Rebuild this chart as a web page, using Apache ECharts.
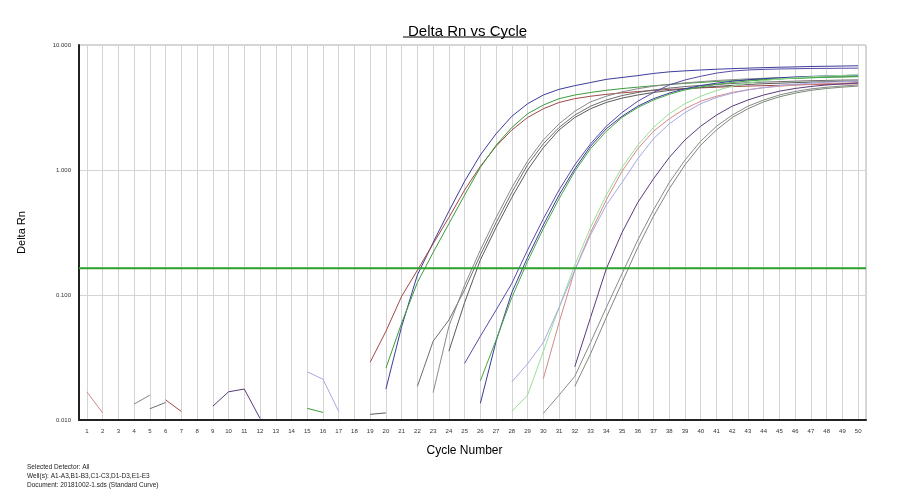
<!DOCTYPE html>
<html lang="en">
<head>
    <title>Delta Rn vs Cycle</title>
    <meta charset="UTF-8">
    <script src="https://cdn.jsdelivr.net/npm/echarts@6.0.0/dist/echarts.min.js"></script>
    <style>
        body {
            padding: 0;
            margin: 0;
            background: #fff;
        }

        #box {
            width: 900px;
            height: 500px;
        }
    </style>
</head>
<body>
<div id="box"></div>

<script>
    var n = null;

    // cycle numbers on the x axis
    var cycles = [1, 2, 3, 4, 5, 6, 7, 8, 9, 10, 11, 12, 13, 14, 15, 16, 17, 18, 19, 20,
        21, 22, 23, 24, 25, 26, 27, 28, 29, 30, 31, 32, 33, 34, 35, 36, 37, 38, 39, 40,
        41, 42, 43, 44, 45, 46, 47, 48, 49, 50];

    // y axis decades
    var yTicks = [0.01, 0.1, 1, 10];

    var threshold = 0.164;

    // Delta Rn per well, one value per cycle (null = not shown on log scale)
    var wellA1 = [n, n, n, n, n, n, n, n, n, n,
        n, n, n, n, n, n, n, n, n, 0.0177,
        0.056, 0.145, 0.263, 0.468, 0.813, 1.32, 1.95, 2.69, 3.39, 3.98,
        4.42, 4.73, 5.01, 5.31, 5.50, 5.69, 5.92, 6.10, 6.21, 6.31,
        6.40, 6.47, 6.53, 6.59, 6.64, 6.68, 6.73, 6.76, 6.79, 6.82];
    var wellA2 = [n, n, n, n, n, 0.0145, 0.0117, n, n, n,
        n, n, n, n, n, n, n, n, 0.029, 0.0513,
        0.0977, 0.158, 0.257, 0.417, 0.692, 1.07, 1.55, 2.09, 2.63, 3.09,
        3.47, 3.72, 3.89, 4.03, 4.14, 4.24, 4.33, 4.41, 4.48, 4.54,
        4.59, 4.65, 4.69, 4.73, 4.76, 4.80, 4.83, 4.85, 4.88, 4.90];
    var wellA3 = [n, n, n, n, n, n, n, n, n, n,
        n, n, n, n, 0.0124, 0.0115, n, n, n, 0.026,
        0.0597, 0.126, 0.219, 0.372, 0.631, 1.05, 1.58, 2.19, 2.82, 3.31,
        3.72, 3.98, 4.17, 4.34, 4.48, 4.60, 4.72, 4.83, 4.93, 5.02,
        5.11, 5.18, 5.25, 5.31, 5.37, 5.42, 5.47, 5.51, 5.55, 5.58];

    var wellB1 = [n, n, n, n, 0.0123, 0.0138, n, n, n, n,
        n, n, n, n, n, n, n, n, n, n,
        n, 0.0186, 0.0427, 0.0631, 0.110, 0.209, 0.380, 0.661, 1.10, 1.62,
        2.19, 2.75, 3.24, 3.63, 3.94, 4.17, 4.37, 4.52, 4.65, 4.75,
        4.84, 4.92, 4.99, 5.05, 5.09, 5.14, 5.18, 5.21, 5.24, 5.26];
    var wellB2 = [n, n, n, n, n, n, n, n, n, n,
        n, n, n, n, n, n, n, n, n, n,
        n, n, 0.0166, 0.0562, 0.120, 0.229, 0.417, 0.724, 1.18, 1.74,
        2.34, 2.95, 3.51, 3.89, 4.22, 4.47, 4.68, 4.84, 4.98, 5.09,
        5.20, 5.28, 5.36, 5.42, 5.47, 5.52, 5.56, 5.58, 5.61, 5.64];
    var wellB3 = [n, n, n, n, n, n, n, n, n, n,
        n, n, n, n, n, n, n, n, 0.0111, 0.0114,
        n, n, n, 0.0355, 0.0871, 0.191, 0.347, 0.603, 1.00, 1.51,
        2.09, 2.63, 3.09, 3.47, 3.76, 3.98, 4.17, 4.33, 4.46, 4.57,
        4.67, 4.75, 4.83, 4.90, 4.95, 5.00, 5.05, 5.08, 5.12, 5.14];

    var wellC1 = [n, n, n, n, n, n, n, n, n, n,
        n, n, n, n, n, n, n, n, n, n,
        n, n, n, n, 0.0284, 0.0468, 0.0759, 0.124, 0.229, 0.407,
        0.692, 1.10, 1.62, 2.24, 2.88, 3.55, 4.17, 4.79, 5.25, 5.62,
        5.96, 6.19, 6.31, 6.38, 6.43, 6.46, 6.49, 6.50, 6.52, 6.53];
    var wellC2 = [n, n, n, n, n, n, n, n, n, n,
        n, n, n, n, n, n, n, n, n, n,
        n, n, n, n, n, 0.0136, 0.0427, 0.105, 0.200, 0.363,
        0.631, 1.02, 1.55, 2.14, 2.69, 3.24, 3.72, 4.12, 4.47, 4.73,
        4.95, 5.13, 5.27, 5.38, 5.47, 5.55, 5.61, 5.66, 5.70, 5.74];
    var wellC3 = [n, n, n, n, n, n, n, n, n, n,
        n, n, n, n, n, n, n, n, n, n,
        n, n, n, n, n, 0.0206, 0.0437, 0.0955, 0.186, 0.339,
        0.589, 0.977, 1.48, 2.04, 2.63, 3.16, 3.63, 4.03, 4.37, 4.62,
        4.84, 5.01, 5.15, 5.26, 5.35, 5.42, 5.48, 5.53, 5.57, 5.61];

    var wellD1 = [n, n, n, n, n, n, n, n, n, n,
        n, n, n, n, n, n, n, n, n, n,
        n, n, n, n, n, n, n, 0.0117, 0.0158, 0.0355,
        0.0794, 0.174, 0.347, 0.631, 1.05, 1.58, 2.19, 2.82, 3.39, 3.89,
        4.32, 4.68, 4.95, 5.18, 5.35, 5.47, 5.57, 5.65, 5.71, 5.77];
    var wellD2 = [0.0168, 0.0114, n, n, n, n, n, n, n, n,
        n, n, n, n, n, n, n, n, n, n,
        n, n, n, n, n, n, n, n, n, 0.0214,
        0.0603, 0.158, 0.316, 0.575, 0.977, 1.48, 2.04, 2.57, 3.09, 3.55,
        3.89, 4.17, 4.39, 4.55, 4.68, 4.78, 4.85, 4.91, 4.95, 4.99];
    var wellD3 = [n, n, n, n, n, n, n, n, n, n,
        n, n, n, n, 0.0243, 0.0212, 0.0117, n, n, n,
        n, n, n, n, n, n, n, 0.0202, 0.0282, 0.0417,
        0.0794, 0.158, 0.302, 0.525, 0.794, 1.23, 1.78, 2.34, 2.88, 3.39,
        3.80, 4.12, 4.37, 4.57, 4.73, 4.85, 4.95, 5.04, 5.09, 5.14];

    var wellE1 = [n, n, n, n, n, n, n, n, 0.0129, 0.0168,
        0.0177, 0.0103, n, n, n, n, n, n, n, n,
        n, n, n, n, n, n, n, n, n, n,
        n, 0.0267, 0.0661, 0.162, 0.316, 0.550, 0.851, 1.26, 1.74, 2.24,
        2.75, 3.24, 3.63, 3.98, 4.27, 4.49, 4.66, 4.79, 4.89, 4.97];
    var wellE2 = [n, n, n, n, n, n, n, n, n, n,
        n, n, n, n, n, n, n, n, n, n,
        n, n, n, n, n, n, n, n, n, 0.0113,
        0.0158, 0.0224, 0.0417, 0.0794, 0.148, 0.275, 0.479, 0.794, 1.20, 1.70,
        2.24, 2.75, 3.24, 3.63, 3.98, 4.25, 4.45, 4.59, 4.70, 4.79];
    var wellE3 = [n, n, n, 0.0134, 0.0158, n, n, n, n, n,
        n, n, n, n, n, n, n, n, n, n,
        n, n, n, n, n, n, n, n, n, n,
        n, 0.0186, 0.0339, 0.0661, 0.126, 0.240, 0.427, 0.708, 1.10, 1.58,
        2.09, 2.63, 3.09, 3.51, 3.85, 4.12, 4.34, 4.49, 4.60, 4.69];

    var wellNames = ['A1', 'A2', 'A3', 'B1', 'B2', 'B3', 'C1', 'C2', 'C3', 'D1', 'D2', 'D3', 'E1', 'E2', 'E3'];
    var wellData = [wellA1, wellA2, wellA3, wellB1, wellB2, wellB3, wellC1, wellC2, wellC3,
        wellD1, wellD2, wellD3, wellE1, wellE2, wellE3];
    var wellColors = ['#3c3c9c', '#a04848', '#3c9c3c', '#6e6e6e', '#8a8a8a', '#5a5a5a',
        '#5a4aa8', '#3a3a9a', '#48a848', '#98e098', '#d88888', '#a8a8e0',
        '#5a3a7a', '#8a8a8a', '#7a8a78'];

    var font = 'Liberation Sans, Arial, sans-serif';

    var series = wellNames.map(function (name, i) {
        return {
            name: name,
            type: 'line',
            symbol: 'none',
            clip: true,
            connectNulls: false,
            lineStyle: {width: 1, color: wellColors[i]},
            data: cycles.map(function (c, k) {
                return [c, wellData[i][k]];
            })
        };
    });

    // threshold line across the whole plot
    series.push({
        name: 'Threshold',
        type: 'line',
        symbol: 'none',
        lineStyle: {width: 2, color: '#2ca02c'},
        data: [[0.5, threshold], [50.5, threshold]]
    });

    var option = {
        animation: false,
        backgroundColor: '#fff',
        title: [{
            text: 'Delta Rn vs Cycle',
            left: 403,
            top: 19,
            textStyle: {fontFamily: font, fontSize: 15, fontWeight: 'normal', color: '#000'}
        }, {
            text: 'Selected Detector: All\nWell(s): A1-A3,B1-B3,C1-C3,D1-D3,E1-E3\nDocument: 20181002-1.sds (Standard Curve)',
            left: 22,
            top: 458,
            textStyle: {fontFamily: font, fontSize: 6.5, fontWeight: 'normal', color: '#222', lineHeight: 9}
        }],
        graphic: [{
            type: 'line',
            shape: {x1: 403, y1: 37, x2: 526, y2: 37},
            style: {stroke: '#000', lineWidth: 1}
        }],
        grid: {
            left: 79,
            right: 34,
            top: 45,
            bottom: 80,
            show: true,
            borderColor: '#b0b0b0',
            borderWidth: 1
        },
        xAxis: {
            type: 'value',
            min: 0.5,
            max: 50.5,
            splitNumber: 50,
            minInterval: 1,
            maxInterval: 1,
            name: 'Cycle Number',
            nameLocation: 'middle',
            nameGap: 25,
            nameTextStyle: {fontFamily: font, fontSize: 12, color: '#000', padding: [0, 16, 0, 0]},
            axisLine: {lineStyle: {color: '#222', width: 2}},
            axisTick: {show: false},
            axisLabel: {
                fontFamily: font, fontSize: 6, color: '#333', margin: 8,
                formatter: function (v) {
                    return cycles.indexOf(v) >= 0 ? String(v) : '';
                }
            },
            splitLine: {show: true, lineStyle: {color: '#d4d4d4', width: 1}}
        },
        yAxis: {
            type: 'log',
            logBase: 10,
            min: yTicks[0],
            max: yTicks[yTicks.length - 1],
            name: 'Delta Rn',
            nameLocation: 'middle',
            nameGap: 52,
            nameTextStyle: {fontFamily: font, fontSize: 11, color: '#000'},
            axisLine: {show: true, lineStyle: {color: '#222', width: 2}},
            axisTick: {show: false},
            axisLabel: {
                fontFamily: font, fontSize: 6, color: '#333', margin: 8,
                formatter: function (v) {
                    return Number(v).toFixed(3);
                }
            },
            splitLine: {show: true, lineStyle: {color: '#d4d4d4', width: 1}},
            minorSplitLine: {show: false}
        },
        series: series
    };

    var myChart = echarts.init(document.getElementById('box'));
    myChart.setOption(option);
</script>
</body>
</html>
